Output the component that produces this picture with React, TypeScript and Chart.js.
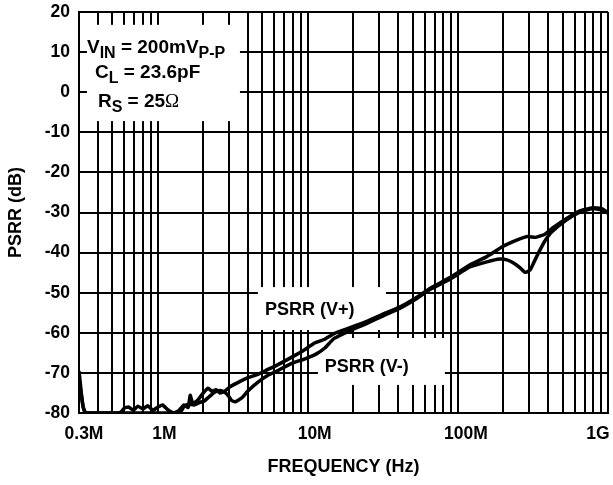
import React, { useEffect, useRef } from "react";
import { Chart, registerables } from "chart.js";

Chart.register(...registerables);

// ---- data (frequency in MHz, PSRR in dB) ----
const xTickValues = [0.3, 1, 10, 100, 1000];
const xTickLabels = ["0.3M", "1M", "10M", "100M", "1G"];
const yMin = -80;
const yMax = 20;
const yStep = 10;

const freqPlus = [
  0.3, 0.305, 0.315, 0.33, 0.56, 0.6, 0.64, 0.69, 0.74, 0.8, 0.86, 0.93,
  1.0, 1.08, 1.17, 1.28, 1.38, 1.5, 1.6, 1.65, 1.72, 1.85,
  2.0, 2.17, 2.3, 2.45, 2.6, 2.8, 3.0, 3.4,
  4.0, 4.7, 5.4, 6.3, 7.9, 9.2,
  11.2, 13, 15, 19, 25, 32, 41, 53, 66, 88,
  120, 156, 199, 247, 290, 330, 380, 430, 530, 650, 790, 900, 1000,
];
const psrrPlus = [
  -69.5, -72, -77, -80, -80, -78.8, -78.5, -79.3, -78.3, -79.0, -78.2, -79.3,
  -78.6, -78.0, -79.2, -80, -79.5, -78.0, -78.6, -75.6, -77.6, -76.8,
  -75.2, -73.8, -74.6, -74.2, -75.0, -74.6, -73.6, -72.5,
  -71.2, -70.3, -69.2, -68.0, -66.0, -64.6,
  -62.5, -61.6, -60.2, -58.8, -57.1, -55.3, -53.6, -51.2, -48.8, -46.3,
  -43.1, -41.0, -38.5, -36.9, -36.0, -36.2, -35.4, -33.8, -31.5, -29.6, -28.8, -29.0, -30.0,
];

const freqMinus = [
  0.3, 0.31, 0.32, 0.335,
  1.4, 1.5, 1.6, 1.75, 1.9, 2.05, 2.2, 2.4, 2.6, 2.8,
  2.95, 3.1, 3.28, 3.45, 3.65, 4.0, 4.67, 5.44, 6.34, 7.85,
  9.6, 11.5, 13, 15, 19, 25, 32, 41, 53, 66,
  88, 120, 156, 190, 212, 235, 260, 280, 302, 325,
  345, 380, 423, 530, 650, 790, 900, 1000,
];
const psrrMinus = [
  -72, -75, -78.5, -80,
  -80, -78.4, -77.8, -78.0, -77.4, -77.0, -76.0, -74.8, -74.4, -74.8,
  -75.6, -76.8, -77.2, -76.8, -76.2, -74.5, -72.3, -70.6, -69.4, -67.6,
  -66.5, -65.2, -63.8, -61.4, -59.5, -57.6, -55.7, -53.9, -51.5, -49.1,
  -46.7, -43.6, -42.3, -41.6, -41.8, -42.6, -43.8, -44.9, -44.4, -42.0,
  -40.0, -37.1, -34.8, -31.8, -29.9, -29.0, -29.3, -30.2,
];

// ---- layout / style ----
const FONT = '"Liberation Sans", Arial, Helvetica, sans-serif';
const xLabelShift = [5, 7, 7, 8, -10];

type Run = { t: string; sub?: boolean; sym?: boolean };
type Note = { x: number; y: number; size: number; runs: Run[] };

// white label boxes, in data units (x MHz, y dB)
const boxes = [
  { x0: 0.339, x1: 3.54, y0: 16.8, y1: -7.2 },
  { x0: 4.66, x1: 33.2, y0: -48.6, y1: -59.3 },
  { x0: 11.7, x1: 82, y0: -61.3, y1: -73.0 },
];

const notes: Note[] = [
  { x: 0.339, y: 9.8, size: 19, runs: [{ t: "V" }, { t: "IN", sub: true }, { t: " = 200mV" }, { t: "P-P", sub: true }] },
  { x: 0.383, y: 3.5, size: 19, runs: [{ t: "C" }, { t: "L", sub: true }, { t: " = 23.6pF" }] },
  { x: 0.401, y: -3.7, size: 19, runs: [{ t: "R" }, { t: "S", sub: true }, { t: " = 25" }, { t: "\u03A9", sym: true }] },
  { x: 5.19, y: -55.6, size: 18, runs: [{ t: "PSRR (V+)" }] },
  { x: 13.0, y: -69.8, size: 18, runs: [{ t: "PSRR (V-)" }] },
];

function buildGridValues(): number[] {
  const out: number[] = [];
  for (const d of [0.1, 1, 10, 100]) {
    for (let m = 1; m <= 9; m++) {
      const v = +(m * d).toPrecision(6);
      if (v >= 0.3 - 1e-9 && v <= 1000) out.push(v);
    }
  }
  out.push(1000);
  return out;
}

const annotPlugin = {
  id: "annot",
  beforeDatasetsDraw(chart: any) {
    const { ctx, scales } = chart;
    const x = scales.x;
    const y = scales.y;
    ctx.save();
    ctx.fillStyle = "#ffffff";
    for (const b of boxes) {
      const px0 = x.getPixelForValue(b.x0);
      const px1 = x.getPixelForValue(b.x1);
      const py0 = y.getPixelForValue(b.y0);
      const py1 = y.getPixelForValue(b.y1);
      ctx.fillRect(px0, py0, px1 - px0, py1 - py0);
    }
    ctx.fillStyle = "#000";
    ctx.textBaseline = "alphabetic";
    ctx.textAlign = "left";
    for (const n of notes) {
      let cx = x.getPixelForValue(n.x);
      const cy = y.getPixelForValue(n.y);
      for (const r of n.runs) {
        if (r.sub) ctx.font = `bold 16px ${FONT}`;
        else if (r.sym) ctx.font = `${n.size}px "Liberation Serif", "DejaVu Serif", serif`;
        else ctx.font = `bold ${n.size}px ${FONT}`;
        ctx.fillText(r.t, cx, cy + (r.sub ? 5 : 0));
        cx += ctx.measureText(r.t).width;
      }
    }
    ctx.restore();
  },
  afterDraw(chart: any) {
    const { ctx, scales, chartArea } = chart;
    const x = scales.x;
    ctx.save();
    ctx.fillStyle = "#000";
    ctx.font = `bold 17.5px ${FONT}`;
    ctx.textAlign = "center";
    ctx.textBaseline = "middle";
    xTickValues.forEach((v, i) => {
      ctx.fillText(xTickLabels[i], x.getPixelForValue(v) + xLabelShift[i], chartArea.bottom + 21);
    });
    ctx.restore();
  },
};

export default function App() {
  const ref = useRef<HTMLCanvasElement | null>(null);

  useEffect(() => {
    if (!ref.current) return;
    Chart.defaults.font.family = FONT;
    const gridValues = buildGridValues();
    const chart = new Chart(ref.current, {
      type: "line",
      data: {
        datasets: [
          {
            label: "PSRR (V+)",
            data: freqPlus.map((f, i) => ({ x: f, y: psrrPlus[i] })),
            borderColor: "#000",
            borderWidth: 3.5,
            pointRadius: 0,
            tension: 0.15,
            fill: false,
          },
          {
            label: "PSRR (V-)",
            data: freqMinus.map((f, i) => ({ x: f, y: psrrMinus[i] })),
            borderColor: "#000",
            borderWidth: 3.5,
            pointRadius: 0,
            tension: 0.15,
            fill: false,
          },
        ],
      },
      options: {
        animation: false,
        responsive: false,
        devicePixelRatio: 1,
        layout: { padding: { top: 12, right: 5, bottom: 0, left: 0 } },
        plugins: { legend: { display: false }, tooltip: { enabled: false } },
        scales: {
          x: {
            type: "logarithmic",
            min: 0.3,
            max: 1000,
            afterBuildTicks: (s: any) => {
              s.ticks = gridValues.map((v) => ({ value: v }));
            },
            afterFit: (s: any) => {
              s.height = 72;
              s.paddingLeft = 0;
              s.paddingRight = 0;
            },
            ticks: { display: false },
            grid: { color: "#000", lineWidth: 2, drawTicks: false },
            border: { display: true, color: "#000", width: 2 },
            title: {
              display: true,
              text: "FREQUENCY (Hz)",
              color: "#000",
              font: { size: 18, weight: "bold", family: FONT },
              padding: { top: 0, bottom: 7 },
            },
          },
          y: {
            type: "linear",
            min: yMin,
            max: yMax,
            afterFit: (s: any) => {
              s.width = 79;
              s.paddingTop = 0;
              s.paddingBottom = 0;
            },
            ticks: {
              stepSize: yStep,
              color: "#000",
              padding: 9,
              font: { size: 17.5, weight: "bold", family: FONT },
            },
            grid: { color: "#000", lineWidth: 2, drawTicks: false },
            border: { display: true, color: "#000", width: 2 },
            title: {
              display: true,
              text: "PSRR (dB)",
              color: "#000",
              font: { size: 18, weight: "bold", family: FONT },
              padding: { top: 5, bottom: 0 },
            },
          },
        },
      },
      plugins: [annotPlugin],
    });
    return () => chart.destroy();
  }, []);

  return (
    <div style={{ position: "fixed", left: 0, top: 0, width: 613, height: 485, background: "#fff" }}>
      <canvas ref={ref} width={613} height={485} style={{ display: "block" }} />
    </div>
  );
}
